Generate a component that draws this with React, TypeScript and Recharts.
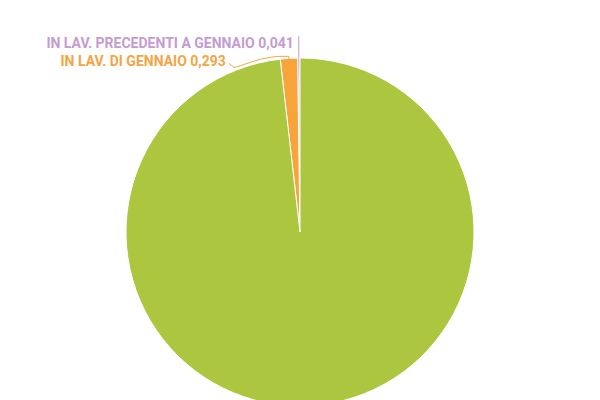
import { Cell, Pie, PieChart } from "recharts";

const names = ["IN LAV. PRECEDENTI A GENNAIO", "IN LAV. DI GENNAIO", "EVASE"];
const values = [0.041, 0.293, 18.1];
const sliceColors = ["#c9a2d6", "#f9a43a", "#acc640"];
const labelColors = ["#c49bd2", "#f5a443"];

const data = names.map((name, i) => ({ name, value: values[i] }));

const RAD = Math.PI / 180;
const fmt = (v: number) => v.toString().replace(".", ",");

function renderLabel(props: any) {
  const { cx, cy, midAngle, outerRadius, index, name, value } = props;
  const x0 = cx + outerRadius * Math.cos(-midAngle * RAD);
  const y0 = cy + outerRadius * Math.sin(-midAngle * RAD);
  const text = `${name} ${fmt(value)}`;
  const font = { fontFamily: "Roboto", fontWeight: 700, fontSize: 14 };
  if (index === 0) {
    const c = labelColors[0];
    return (
      <g>
        <path d={`M${x0},${y0} L${x0},${y0 - 22}`} stroke={c} fill="none" />
        <text x={x0 - 5} y={y0 - 10} textAnchor="end" fill={c} {...font}>
          {text}
        </text>
      </g>
    );
  }
  if (index === 1) {
    const c = labelColors[1];
    const ex = x0 - 60;
    const ey = y0 + 9;
    return (
      <g>
        <path
          d={`M${x0},${y0 + 1} L${x0},${y0 - 2} L${x0 - 10},${y0 - 2} C${x0 - 30},${y0 - 1} ${ex + 10},${ey} ${ex + 5},${ey} L${ex},${ey - 4}`}
          stroke={c}
          fill="none"
        />
        <text x={ex - 3} y={ey - 1} textAnchor="end" fill={c} {...font}>
          {text}
        </text>
      </g>
    );
  }
  // green label falls below the visible area
  return (
    <path
      d={`M${x0},${y0} L${x0 + 20},${y0 + 20}`}
      stroke="#999"
      fill="none"
    />
  );
}

export default function App() {
  return (
    <div style={{ position: "absolute", left: 0, top: 0, width: 600, height: 400, background: "#fff" }}>
      <PieChart width={600} height={400} margin={{ top: 0, right: 0, bottom: 0, left: 0 }}>
        <Pie
          data={data}
          dataKey="value"
          nameKey="name"
          cx={300}
          cy={232}
          outerRadius={174}
          startAngle={90}
          endAngle={450}
          stroke="#fff"
          strokeWidth={1}
          label={renderLabel}
          labelLine={false}
          isAnimationActive={false}
        >
          {data.map((d, i) => (
            <Cell key={d.name} fill={sliceColors[i]} />
          ))}
        </Pie>
      </PieChart>
    </div>
  );
}
